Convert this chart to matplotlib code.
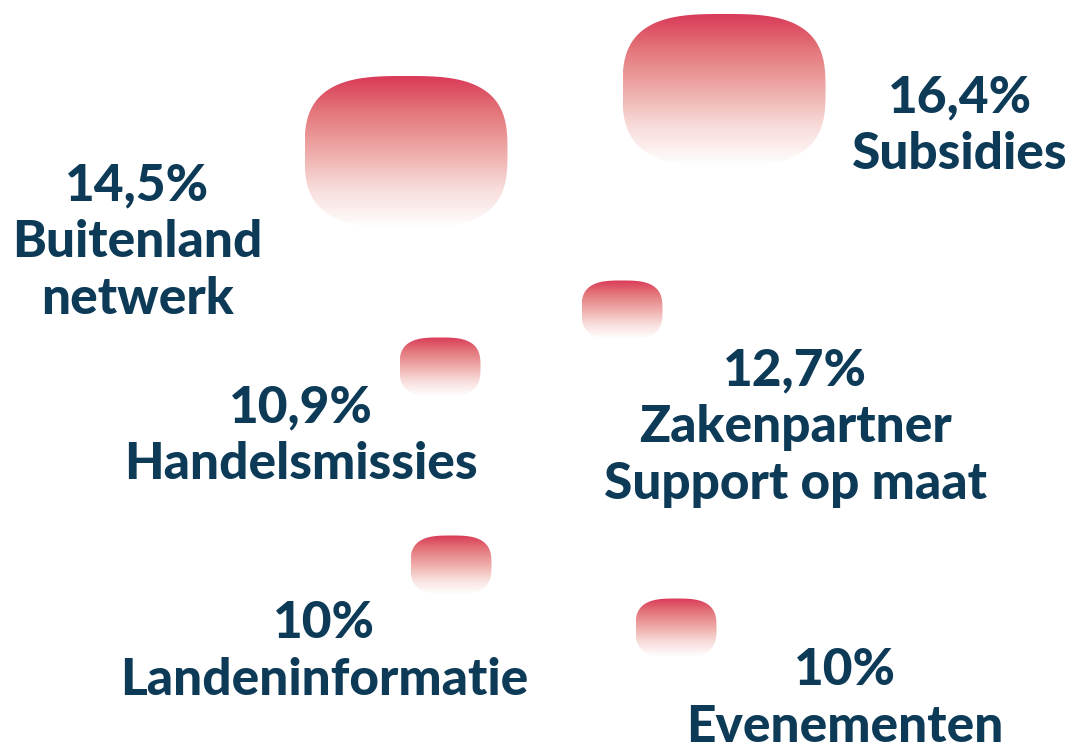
import numpy as np
import matplotlib
matplotlib.use("Agg")
import matplotlib.pyplot as plt
from matplotlib.path import Path
from matplotlib.patches import PathPatch
from matplotlib.colors import LinearSegmentedColormap

# 数据
labels = ["Buitenland\nnetwerk", "Subsidies", "Zakenpartner\nSupport op maat",
          "Handelsmissies", "Landeninformatie", "Evenementen"]
values = [14.5, 16.4, 12.7, 10.9, 10.0, 10.0]

# 布局 (像素坐标, y 向下)
blob_xy = [(406, 152), (724, 90), (622, 310), (440, 367), (451, 565), (676, 628)]
text_xy = [(137, 200), (960, 112), (795, 385), (301, 422), (324, 638), (845, 685)]

W, H = 1074, 742
TEXT_COLOR = "#0c3a57"
LINE_GAP = 57

# 顶部红 -> 底部白
grad_cmap = LinearSegmentedColormap.from_list(
    "blob", [(0.0, "#d93a57"), (0.22, "#e37378"), (0.5, "#eeaca9"),
             (0.75, "#f8dedc"), (1.0, "#ffffff")])


def blob_size(v):
    # 大于14%的用大块, 其余用小块
    return (203, 152) if v >= 14 else (81, 59)


def squircle_path(cx, cy, w, h, n=3.0, k=240):
    t = np.linspace(0, 2 * np.pi, k, endpoint=False)
    c, s = np.cos(t), np.sin(t)
    x = cx + w / 2 * np.sign(c) * np.abs(c) ** (2 / n)
    y = cy + h / 2 * np.sign(s) * np.abs(s) ** (2 / n)
    verts = np.column_stack([x, y])
    verts = np.vstack([verts, verts[:1]])
    codes = [Path.MOVETO] + [Path.LINETO] * (k - 1) + [Path.CLOSEPOLY]
    return Path(verts, codes)


def draw_blob(ax, cx, cy, w, h):
    g = np.linspace(0, 1, 256)[:, None] * np.ones((1, 2))
    im = ax.imshow(g, cmap=grad_cmap, vmin=0, vmax=1,
                   extent=(cx - w / 2, cx + w / 2, cy + h / 2, cy - h / 2),
                   aspect="auto", interpolation="bilinear", zorder=1)
    patch = PathPatch(squircle_path(cx, cy, w, h), facecolor="none", edgecolor="none")
    ax.add_patch(patch)
    im.set_clip_path(patch)


def fmt_pct(v):
    return f"{v:g}".replace(".", ",") + "%"


fig = plt.figure(figsize=(W / 100, H / 100), dpi=100)
ax = fig.add_axes([0, 0, 1, 1])
ax.set_xlim(0, W)
ax.set_ylim(H, 0)
ax.axis("off")

for v, (bx, by) in zip(values, blob_xy):
    w, h = blob_size(v)
    draw_blob(ax, bx, by, w, h)

font = dict(family=["Lato", "DejaVu Sans"], fontweight="black", fontsize=37,
            color=TEXT_COLOR, ha="center", va="baseline")
for lab, v, (tx, ty) in zip(labels, values, text_xy):
    lines = [fmt_pct(v)] + lab.split("\n")
    for i, line in enumerate(lines):
        ax.text(tx, ty + i * LINE_GAP, line, **font)

fig.savefig("out.png", dpi=100)
